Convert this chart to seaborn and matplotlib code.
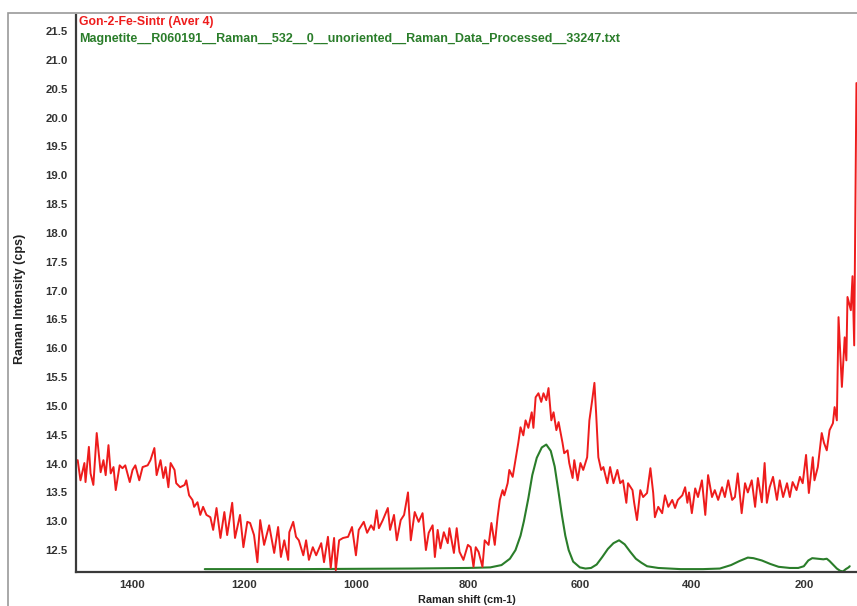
import matplotlib
matplotlib.use("Agg")
import matplotlib.pyplot as plt
import seaborn as sns
import pandas as pd
import numpy as np
from matplotlib.patches import Rectangle
from matplotlib.ticker import MultipleLocator, FormatStrFormatter

# ---- data ----
red_name = "Gon-2-Fe-Sintr (Aver 4)"
green_name = "Magnetite__R060191__Raman__532__0__unoriented__Raman_Data_Processed__33247.txt"

red_shift = [1497, 1492, 1485, 1483, 1477, 1474, 1469, 1463, 1456, 1451, 1447, 1442, 1438, 1433, 1429,
             1422, 1417, 1412, 1404, 1399, 1394, 1387, 1381, 1372, 1367, 1360, 1356, 1349, 1344, 1340,
             1335, 1331, 1324, 1321, 1314, 1306, 1303, 1298, 1292, 1289, 1283, 1278, 1273, 1267, 1260,
             1255, 1249, 1242, 1235, 1230, 1221, 1216, 1207, 1201, 1194, 1189, 1182, 1176, 1171, 1164,
             1155, 1146, 1139, 1134, 1128, 1121, 1119, 1112, 1107, 1102, 1094, 1089, 1084, 1077, 1071,
             1062, 1057, 1050, 1045, 1039, 1036, 1030, 1023, 1014, 1007, 1000, 995, 986, 980, 973,
             968, 963, 959, 952, 943, 939, 932, 927, 920, 914, 907, 902, 895, 888, 881,
             875, 870, 863, 859, 854, 849, 843, 836, 833, 825, 820, 815, 808, 800, 795,
             790, 786, 781, 774, 770, 763, 758, 752, 747, 743, 738, 735, 729, 726, 720,
             715, 710, 706, 701, 697, 692, 686, 683, 679, 674, 669, 665, 660, 656, 651,
             647, 642, 638, 631, 628, 622, 619, 613, 610, 604, 599, 594, 587, 583, 578,
             574, 571, 567, 562, 558, 551, 546, 540, 533, 528, 523, 517, 514, 506, 503,
             498, 492, 487, 480, 474, 469, 466, 460, 453, 448, 442, 435, 430, 425, 417,
             412, 408, 405, 400, 394, 389, 382, 376, 371, 364, 359, 353, 346, 341, 335,
             328, 323, 318, 311, 305, 300, 293, 287, 282, 275, 270, 266, 261, 255, 248,
             243, 237, 230, 225, 220, 213, 207, 202, 196, 191, 184, 181, 175, 168, 164,
             159, 154, 148, 145, 141, 138, 132, 127, 124, 122, 116, 113, 110, 106]
red_intensity = [14.06, 13.71, 14.01, 13.68, 14.29, 13.83, 13.63, 14.53, 13.85, 14.06, 13.80, 14.32, 13.83, 13.94, 13.54,
                 13.97, 13.92, 13.97, 13.68, 13.89, 13.97, 13.71, 13.94, 13.97, 14.06, 14.27, 13.80, 14.06, 13.75, 13.94,
                 13.59, 14.01, 13.89, 13.66, 13.59, 13.63, 13.71, 13.45, 13.37, 13.25, 13.33, 13.11, 13.25, 13.11, 13.07,
                 12.85, 13.23, 12.71, 13.16, 12.76, 13.32, 12.71, 13.11, 12.55, 12.99, 12.97, 12.76, 12.29, 13.02, 12.59,
                 12.93, 12.45, 12.90, 12.38, 12.67, 12.33, 12.81, 12.99, 12.73, 12.67, 12.41, 12.67, 12.33, 12.55, 12.41,
                 12.62, 12.29, 12.73, 12.19, 12.71, 12.15, 12.67, 12.71, 12.73, 12.90, 12.41, 12.85, 12.99, 12.80, 12.93,
                 12.85, 13.19, 12.88, 13.02, 13.23, 12.85, 13.11, 12.67, 13.02, 13.11, 13.50, 12.67, 13.16, 12.99, 13.14,
                 12.50, 12.80, 12.93, 12.38, 12.85, 12.53, 12.81, 12.62, 12.88, 12.45, 12.88, 12.47, 12.33, 12.59, 12.55,
                 12.21, 12.55, 12.47, 12.21, 12.67, 12.59, 12.97, 12.59, 13.07, 13.37, 13.54, 13.45, 13.66, 13.89, 13.77,
                 14.06, 14.36, 14.63, 14.49, 14.75, 14.62, 14.89, 14.62, 15.15, 15.22, 15.07, 15.22, 15.10, 15.31, 14.75,
                 14.89, 14.58, 14.72, 14.36, 14.18, 14.23, 14.01, 13.75, 14.06, 13.71, 14.01, 13.89, 14.11, 14.75, 15.10,
                 15.40, 14.88, 14.11, 13.89, 13.94, 13.66, 13.94, 13.66, 13.89, 13.66, 13.71, 13.32, 13.66, 13.54, 13.32,
                 13.02, 13.54, 13.42, 13.49, 13.92, 13.49, 13.07, 13.25, 13.14, 13.45, 13.25, 13.37, 13.23, 13.37, 13.45,
                 13.59, 13.32, 13.50, 13.14, 13.57, 13.42, 13.71, 13.11, 13.80, 13.42, 13.54, 13.37, 13.59, 13.42, 13.71,
                 13.37, 13.42, 13.83, 13.14, 13.66, 13.50, 13.71, 13.25, 13.75, 13.33, 14.01, 13.32, 13.59, 13.77, 13.37,
                 13.71, 13.42, 13.66, 13.42, 13.68, 13.54, 13.77, 13.66, 14.15, 13.49, 14.11, 13.71, 13.94, 14.53, 14.36,
                 14.23, 14.58, 14.70, 14.98, 14.75, 16.54, 15.33, 16.19, 15.79, 16.89, 16.66, 17.25, 16.05, 20.6]

green_shift = [1270, 1100, 900, 800, 760, 740, 725, 715, 706, 700, 692, 685, 677, 668, 660,
               652, 645, 638, 632, 626, 620, 612, 600, 590, 580, 570, 560, 550, 540, 530,
               520, 510, 500, 490, 480, 460, 420, 380, 350, 330, 315, 300, 290, 275, 260,
               245, 225, 210, 200, 192, 185, 175, 165, 159, 154, 147, 141, 135, 130, 125,
               120, 118]
green_intensity = [12.17, 12.17, 12.18, 12.19, 12.20, 12.24, 12.35, 12.50, 12.75, 13.00, 13.40, 13.80, 14.10, 14.28, 14.33,
                   14.22, 13.95, 13.50, 13.10, 12.75, 12.50, 12.30, 12.20, 12.18, 12.19, 12.25, 12.38, 12.52, 12.62, 12.67,
                   12.60, 12.47, 12.35, 12.28, 12.22, 12.19, 12.17, 12.17, 12.18, 12.24, 12.31, 12.37, 12.36, 12.32, 12.26,
                   12.21, 12.19, 12.19, 12.22, 12.32, 12.36, 12.35, 12.34, 12.35, 12.31, 12.24, 12.18, 12.14, 12.13, 12.17,
                   12.20, 12.22]

y_ticks = [12.5, 13.0, 13.5, 14.0, 14.5, 15.0, 15.5, 16.0, 16.5, 17.0, 17.5, 18.0, 18.5, 19.0,
           19.5, 20.0, 20.5, 21.0, 21.5]
x_ticks = [1400, 1200, 1000, 800, 600, 400, 200]

red_df = pd.DataFrame({"shift": red_shift, "intensity": red_intensity})
green_df = pd.DataFrame({"shift": green_shift, "intensity": green_intensity})

sns.set_theme(style="white")
plt.rcParams["font.family"] = ["Liberation Sans", "DejaVu Sans"]

W, H = 857, 606
fig = plt.figure(figsize=(W / 100, H / 100), dpi=100)
ax = fig.add_axes([76 / W, 1 - 572 / H, (W - 76) / W, (572 - 15) / H])

RED = "#ee1c1c"
GREEN = "#2a7d2a"

sns.lineplot(data=green_df, x="shift", y="intensity", ax=ax, color=GREEN, lw=1.5,
             estimator=None, sort=False)
sns.lineplot(data=red_df, x="shift", y="intensity", ax=ax, color=RED, lw=1.4,
             estimator=None, sort=False)

ax.set_xlim(1500, 105)
ax.set_ylim(12.12, 21.78)
ax.set_xticks(x_ticks)
ax.set_yticks(y_ticks)
ax.yaxis.set_major_formatter(FormatStrFormatter("%.1f"))
ax.xaxis.set_minor_locator(MultipleLocator(50))

for s in ["top", "right"]:
    ax.spines[s].set_visible(False)
for s in ["left", "bottom"]:
    ax.spines[s].set_color("#3a3a3a")
    ax.spines[s].set_linewidth(1.6)

ax.tick_params(axis="both", which="major", direction="out", length=4, width=1,
               color="#3a3a3a", labelsize=8.2, labelcolor="#333333", pad=2)
ax.tick_params(axis="x", which="minor", direction="out", length=2, width=0.8, color="#3a3a3a")
for lab in ax.get_xticklabels() + ax.get_yticklabels():
    lab.set_fontweight("bold")

ax.set_xlabel("Raman shift (cm-1)", fontsize=7.8, fontweight="bold", color="#222222")
ax.set_ylabel("Raman Intensity (cps)", fontsize=9, fontweight="bold", color="#222222")
ax.xaxis.set_label_coords(0.5, -0.042)
ax.yaxis.set_label_coords(-0.064, 0.49)

fig.text(79 / W, 1 - 22 / H, red_name, color=RED, fontsize=8.8, fontweight="bold",
         va="center", ha="left")
fig.text(79 / W, 1 - 39 / H, green_name, color=GREEN, fontsize=9, fontweight="bold",
         va="center", ha="left")

fig.patches.append(Rectangle((8 / W, -0.05), 1.2, 1.05 - 13 / H, transform=fig.transFigure,
                             fill=False, edgecolor="#9a9a9a", lw=1.2))

fig.savefig("out.png", dpi=100)
